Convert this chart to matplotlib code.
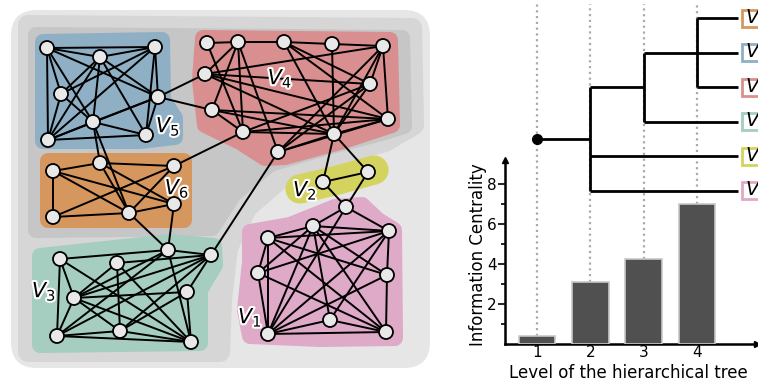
import matplotlib
matplotlib.use("Agg")
import matplotlib.pyplot as plt
from matplotlib.patches import Circle, Polygon, FancyBboxPatch, Rectangle
from matplotlib.transforms import blended_transform_factory
import matplotlib.patheffects as pe

# ---------------- data ----------------
levels = [1, 2, 3, 4]
centrality = [0.4, 3.1, 4.25, 7.0]
ytick_values = [2, 4, 6, 8]
tree = [[["V6", "V5", "V4"], "V3"], "V2", "V1"]
leaf_order = ["V6", "V5", "V4", "V3", "V2", "V1"]

group_colors = {
    "V1": "#dfa9c8", "V2": "#d4d35f", "V3": "#a5cdc0",
    "V4": "#d98f8f", "V5": "#8fb0c4", "V6": "#d6975f",
}

# node layout of the network (pixel coordinates)
nodes_v5 = {"A": (47, 48), "B": (100, 57), "C": (155, 47), "D": (61, 94),
            "E": (158, 97), "F": (93, 122), "G": (48, 140), "H": (146, 135)}
nodes_v6 = {"P": (53, 171), "Q": (100, 163), "R": (174, 166), "S": (174, 204),
            "T": (53, 217), "U": (129, 213)}
nodes_v4 = {"a": (207, 43), "b": (238, 42), "c": (284, 42), "d": (332, 44),
            "e": (383, 46), "f": (205, 74), "g": (370, 84), "h": (212, 110),
            "i": (388, 119), "j": (243, 132), "k": (334, 134), "l": (278, 152)}
nodes_v2 = {"m": (323, 182), "n": (368, 172), "o": (346, 207)}
nodes_v1 = {"p": (313, 226), "q": (389, 231), "r": (268, 238), "s": (258, 273),
            "t": (387, 275), "u": (330, 320), "v": (268, 334), "w": (386, 332)}
nodes_v3 = {"A3": (60, 259), "B3": (117, 263), "C3": (168, 250), "D3": (211, 255),
            "E3": (74, 298), "F3": (187, 292), "G3": (57, 336), "H3": (120, 331),
            "I3": (191, 342)}

edges_v5 = "A-B A-C A-D A-G A-F A-E B-C B-D B-F B-H B-E B-G C-E C-H C-D C-G D-F D-G F-G F-H F-E G-H G-E E-H"
edges_v6 = "P-Q P-T P-U P-S Q-R Q-U Q-S R-U R-T S-U T-U"
edges_v4 = ("a-b b-c c-d d-e a-j b-f b-h b-j b-l c-k c-i c-g d-k e-f e-g e-i e-k e-l "
            "f-i f-k f-g h-i h-k j-i j-k j-g l-g l-k l-i g-k k-i h-j")
edges_v2 = "m-n m-o n-o"
edges_v1 = ("p-r p-q p-t p-w p-s p-v p-u r-q r-s r-v r-t r-w s-v s-q s-w q-t q-v "
            "t-w t-v u-v u-w v-w u-q")
edges_v3 = ("A3-C3 A3-E3 A3-G3 A3-I3 B3-E3 B3-H3 B3-I3 B3-D3 C3-E3 C3-I3 C3-D3 C3-G3 "
            "D3-E3 D3-F3 D3-G3 D3-H3 E3-F3 E3-H3 E3-I3 E3-G3 F3-H3 F3-I3 G3-H3 G3-I3 H3-I3")
edges_between = "E-f E-h F-Q F-U R-j U-C3 S-C3 l-D3 k-m k-n o-p o-q o-v"

label_pos = {"V5": (168, 126), "V4": (280, 78), "V6": (177, 188),
             "V2": (305, 190), "V3": (44, 291), "V1": (250, 317)}

# ---------------- figure ----------------
W, H = 758, 385
fig = plt.figure(figsize=(W / 100, H / 100), dpi=100)
ax = fig.add_axes([0, 0, 1, 1], zorder=1)
ax.set_xlim(0, W)
ax.set_ylim(H, 0)
ax.axis("off")

# bar chart axes (pixel frame: x 505..757, y 160..344)
px_per_level = 53.33
x0_px, x1_px, ybot_px, ytop_px = 505, 757, 344, 160
px_per_unit = 19.95
ax_bar = fig.add_axes([x0_px / W, (H - ybot_px) / H, (x1_px - x0_px) / W,
                       (ybot_px - ytop_px) / H], zorder=2)
ax_bar.patch.set_alpha(0)
ax_bar.set_xlim(1 - (537 - x0_px) / px_per_level, 1 + (x1_px - 537) / px_per_level)
ax_bar.set_ylim(0, (ybot_px - ytop_px) / px_per_unit)

# ---------------- hierarchical background regions ----------------
ax.add_patch(FancyBboxPatch((11, 10), 419, 358,
                            boxstyle="round,pad=0,rounding_size=26",
                            fc="#e6e6e6", ec="none", zorder=0))


def blob(pts, color, pad_px, z):
    lw = pad_px * 2 * 72 / 100
    ax.add_patch(Polygon(pts, closed=True, fc=color, ec=color, lw=lw,
                         joinstyle="round", zorder=z))


blob([(28, 25), (412, 28), (414, 125), (385, 142), (340, 155), (285, 175),
      (247, 208), (228, 248), (222, 300), (220, 352), (28, 352)], "#d6d6d6", 10, 0.5)
blob([(36, 35), (402, 38), (404, 126), (385, 132), (328, 147), (270, 164),
      (234, 194), (212, 228), (36, 230)], "#c6c6c6", 8, 0.6)

hulls = {
    "V5": [(43, 42), (162, 40), (163, 100), (175, 118), (175, 137), (140, 141), (43, 141)],
    "V4": [(203, 38), (390, 40), (392, 125), (340, 142), (285, 157), (265, 158),
           (240, 142), (205, 125), (200, 80)],
    "V6": [(48, 161), (184, 161), (184, 220), (48, 220)],
    "V3": [(40, 256), (170, 242), (214, 246), (215, 265), (200, 290), (200, 343), (40, 345)],
    "V1": [(250, 232), (290, 225), (335, 207), (362, 205), (378, 220), (394, 230),
           (395, 338), (320, 339), (250, 336), (245, 310), (250, 262)],
}
for g, pts in hulls.items():
    blob(pts, group_colors[g], 8, 1)
ax.plot([300, 338, 374], [189, 180, 170], color=group_colors["V2"], lw=21,
        solid_capstyle="round", solid_joinstyle="round", zorder=1)

# ---------------- network ----------------
pos = {}
for d in (nodes_v5, nodes_v6, nodes_v4, nodes_v2, nodes_v1, nodes_v3):
    pos.update(d)

for group in (edges_v5, edges_v6, edges_v4, edges_v2, edges_v1, edges_v3, edges_between):
    for e in group.split():
        u, v = e.split("-")
        (xa, ya), (xb, yb) = pos[u], pos[v]
        ax.plot([xa, xb], [ya, yb], color="black", lw=1.4, zorder=3,
                solid_capstyle="round")

for name, (x, y) in pos.items():
    ax.add_patch(Circle((x, y), 7.0, fc="#e8e8e8", ec="black", lw=1.3, zorder=4))

for g, (x, y) in label_pos.items():
    ax.text(x, y, f"$V_{g[1]}$", fontsize=15, ha="center", va="center", zorder=5,
            path_effects=[pe.withStroke(linewidth=3, foreground="white")])

# ---------------- dendrogram ----------------
leaf_y = {g: 18 + 34.5 * i for i, g in enumerate(leaf_order)}
leaf_end = 1 + (738 - 537) / px_per_level
tr = blended_transform_factory(ax_bar.transData, ax.transData)
dkw = dict(color="black", lw=2.0, transform=tr, clip_on=False, zorder=3,
           solid_capstyle="butt")


def draw_tree(node, depth):
    if isinstance(node, str):
        return leaf_y[node]
    ys = [draw_tree(c, depth + 1) for c in node]
    x = depth + 2
    ax.plot([x, x], [min(ys), max(ys)], **dkw)
    for c, y in zip(node, ys):
        x_end = leaf_end if isinstance(c, str) else depth + 3
        ax.plot([x, x_end], [y, y], **dkw)
    return (min(ys) + max(ys)) / 2


root_y = draw_tree(tree, 0)
ax.plot([1, 2], [root_y, root_y], **dkw)
ax.plot([1], [root_y], "o", color="black", ms=7, transform=tr, clip_on=False, zorder=4)

for g in leaf_order:
    y = leaf_y[g]
    ax.add_patch(Rectangle((742, y - 8.5), 40, 17, fc="white",
                           ec=group_colors[g], lw=2.0, zorder=4))
    ax.text(745, y, f"$V_{g[1]}$", fontsize=14, ha="left", va="center", zorder=5)

# dotted level guides
for lv, val in zip(levels, centrality):
    ax.plot([lv, lv], [val, (ybot_px - 4) / px_per_unit], color="#aaaaaa",
            lw=1.6, linestyle=(0, (1, 1.6)), transform=ax_bar.transData,
            clip_on=False, zorder=2)

# ---------------- bar chart ----------------
ax_bar.bar(levels, centrality, width=0.69, color="#505050", edgecolor="#c8c8c8",
           lw=1.2, zorder=3)
for s in ("top", "right"):
    ax_bar.spines[s].set_visible(False)
for s in ("left", "bottom"):
    ax_bar.spines[s].set_linewidth(1.8)
ax_bar.plot(1, 0, ">", color="black", ms=5, transform=ax_bar.transAxes, clip_on=False)
ax_bar.plot(0, 1, "^", color="black", ms=5, transform=ax_bar.transAxes, clip_on=False)
ax_bar.set_xticks(levels)
ax_bar.set_xticklabels([str(v) for v in levels], fontsize=11)
ax_bar.tick_params(axis="x", length=0, pad=1)
ax_bar.set_yticks(ytick_values)
ax_bar.set_yticklabels([str(v) for v in ytick_values], fontsize=11)
ax_bar.set_yticks([1, 3, 5, 7], minor=True)
ax_bar.tick_params(axis="y", which="major", length=5, width=1.2, pad=1)
ax_bar.tick_params(axis="y", which="minor", length=2.8, width=1.2)

ax.text(478, 255, "Information Centrality", rotation=90, fontsize=12,
        ha="center", va="center")
ax.text(628, 378, "Level of the hierarchical tree", fontsize=12,
        ha="center", va="baseline")

fig.savefig("out.png", dpi=100)
